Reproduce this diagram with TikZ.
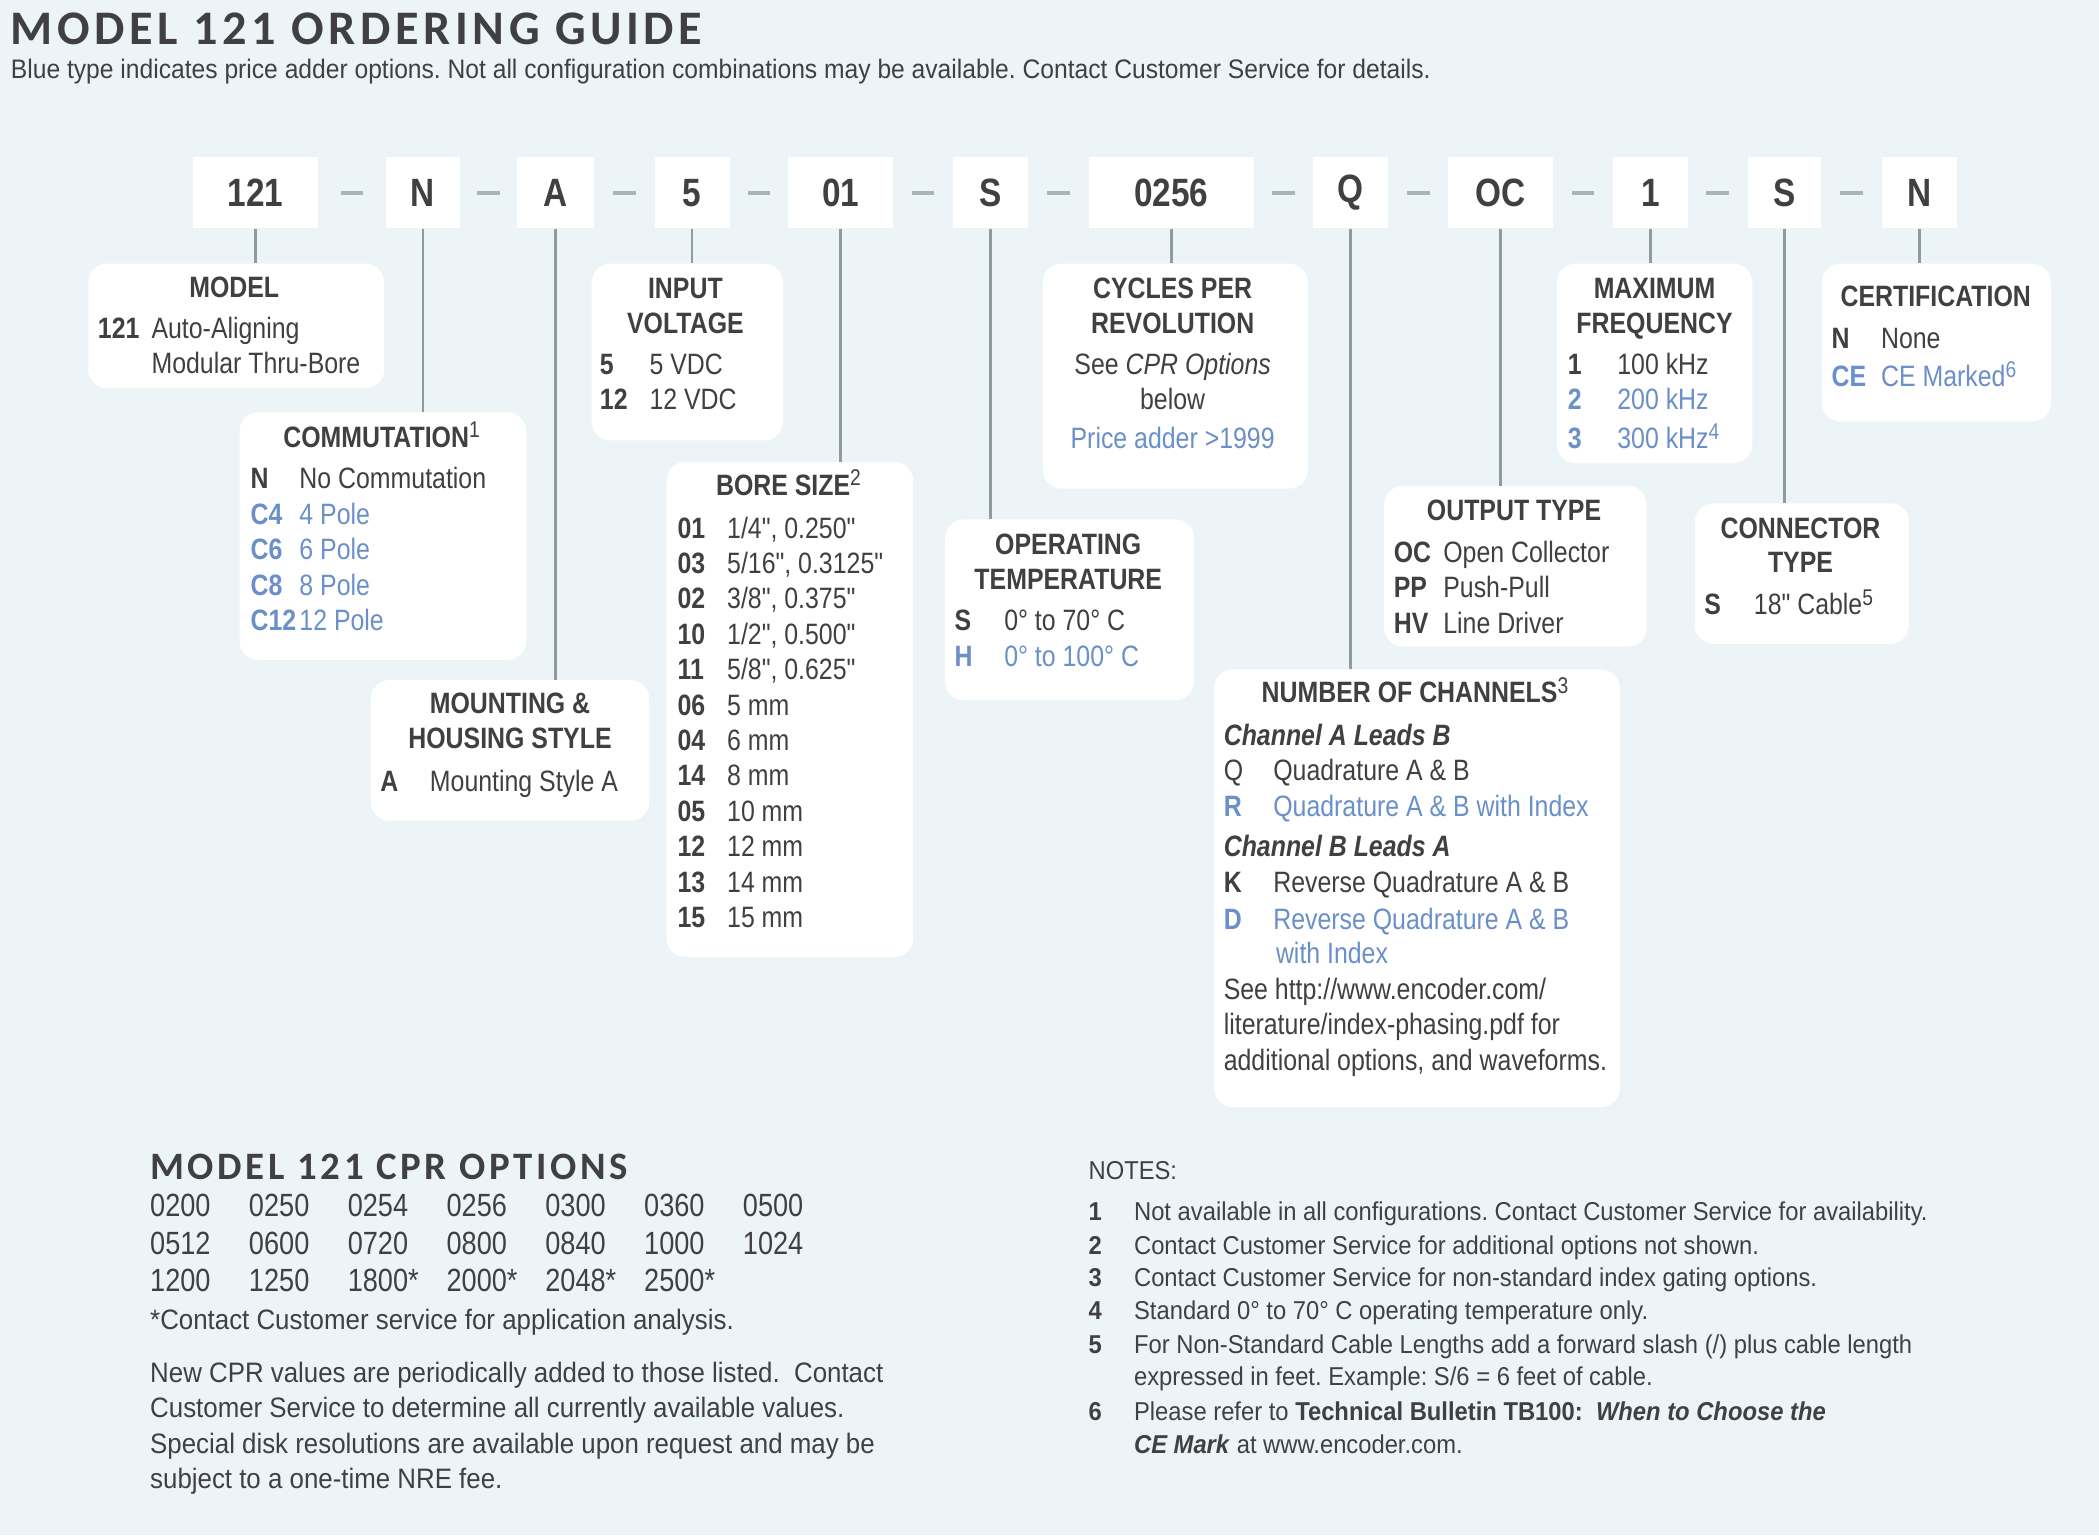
\documentclass[tikz,border=0pt]{standalone}
\usepackage{fontspec}
\setmainfont[FakeStretch=0.845, Ligatures=TeXOff]{Liberation Sans}
\newfontfamily\widefont[FakeStretch=0.92]{Liberation Sans}
\newfontfamily\headfont[LetterSpace=9.5]{Carlito}

\definecolor{paper}{HTML}{EDF4F8}
\definecolor{ink}{HTML}{404043}
\definecolor{adder}{HTML}{6A8FC9}
\definecolor{leadgray}{HTML}{8F9C9E}
\definecolor{sepgray}{HTML}{A9B5B7}

\newcommand\bodyfont{\fontsize{22}{26}\selectfont}
\newcommand\sups[1]{\raisebox{0.6ex}{\fontsize{17}{17}\selectfont\mdseries #1}}

\begin{document}
\frenchspacing
\begin{tikzpicture}[x=1pt, y=-1pt,
    every node/.style={text=ink, inner sep=0pt},
    codebox/.style={fill=white, minimum height=53pt, font=\fontsize{29.5}{29.5}\selectfont\bfseries},
    sepbar/.style={fill=sepgray, minimum width=17pt, minimum height=2.6pt},
    lead/.style={draw=leadgray, line width=2pt},
    infobox/.style={fill=white, rounded corners=14pt},
    head/.style={anchor=base, font=\bodyfont\bfseries},
    key/.style={anchor=base west, font=\bodyfont\bfseries},
    txt/.style={anchor=base west, font=\bodyfont},
    extra/.style={text=adder}
]

\fill[paper] (0,0) rectangle (1568,1147);
\useasboundingbox (0,0) rectangle (1568,1147);

% heading
\node[anchor=base west, font=\headfont\fontsize{36}{36}\selectfont\bfseries] (title) at (8,33) {MODEL 121 ORDERING GUIDE};
\node[anchor=base west, font=\widefont\fontsize{20}{20}\selectfont] (subtitle) at (8,59)
  {Blue type indicates price adder options. Not all configuration combinations may be available. Contact Customer Service for details.};

% part number
\node[codebox, minimum width=93pt] (k121) at (191,144) {121};
\node[codebox, minimum width=55pt] (kN) at (316,144) {N};
\node[codebox, minimum width=57pt] (kA) at (415,144) {A};
\node[codebox, minimum width=56pt] (k5) at (517,144) {5};
\node[codebox, minimum width=78pt] (k01) at (628,144) {01};
\node[codebox, minimum width=56pt] (kS) at (740,144) {S};
\node[codebox, minimum width=123pt] (k0256) at (875,144) {0256};
\node[codebox, minimum width=56pt] (kQ) at (1009,144) {Q};
\node[codebox, minimum width=78pt] (kOC) at (1121,144) {OC};
\node[codebox, minimum width=56pt] (k1) at (1233,144) {1};
\node[codebox, minimum width=55pt] (kSc) at (1333,144) {S};
\node[codebox, minimum width=56pt] (kNc) at (1434,144) {N};

\foreach \a/\b [count=\i] in {k121/kN, kN/kA, kA/k5, k5/k01, k01/kS, kS/k0256,
    k0256/kQ, kQ/kOC, kOC/k1, k1/kSc, kSc/kNc}
  \path (\a.east) -- node[sepbar] (sep\i) {} (\b.west);

% option boxes
\node[infobox, minimum width=221pt, minimum height=93pt] (model) at (176.5,243.5) {};
\node[infobox, minimum width=214pt, minimum height=185pt] (commut) at (286,400.5) {};
\node[infobox, minimum width=208pt, minimum height=105pt] (mount) at (381,560.5) {};
\node[infobox, minimum width=143pt, minimum height=132pt] (volt) at (513.5,263) {};
\node[infobox, minimum width=184pt, minimum height=370pt] (bore) at (590,530) {};
\node[infobox, minimum width=186pt, minimum height=135pt] (temp) at (799,455.5) {};
\node[infobox, minimum width=198pt, minimum height=168pt] (cpr) at (878,281) {};
\node[infobox, minimum width=303pt, minimum height=327pt] (chan) at (1058.5,663.5) {};
\node[infobox, minimum width=196pt, minimum height=120pt] (output) at (1132,423) {};
\node[infobox, minimum width=146pt, minimum height=149pt] (freq) at (1236,271.5) {};
\node[infobox, minimum width=160pt, minimum height=105pt] (connect) at (1346,428.5) {};
\node[infobox, minimum width=171pt, minimum height=118pt] (cert) at (1446.5,256) {};

\foreach \k/\b in {k121/model, kN/commut, kA/mount, k5/volt, k01/bore, kS/temp,
    k0256/cpr, kQ/chan, kOC/output, k1/freq, kSc/connect, kNc/cert}
  \draw[lead] (\k.south) -- (\k.south |- \b.north);

% model
\node[head] (model-t) at (175,222) {MODEL};
\node[key] (model-k) at (73,253) {121};
\node[txt] (model-v1) at (113,253) {Auto-Aligning};
\node[txt] (model-v2) at (113,279) {Modular Thru-Bore};

% commutation
\node[head] (commut-t) at (285,334) {COMMUTATION\sups{1}};
\foreach \k/\v/\c [count=\i] in {N/No Commutation/ink, C4/4 Pole/adder, C6/6 Pole/adder,
    C8/8 Pole/adder, C12/12 Pole/adder} {
  \node[key, text=\c] (commut-k\i) at (187,{365+(\i-1)*26.5}) {\k};
  \node[txt, text=\c] (commut-v\i) at (223.5,{365+(\i-1)*26.5}) {\v};
}

% mounting
\node[head] (mount-t1) at (381,533) {MOUNTING \&};
\node[head] (mount-t2) at (381,559) {HOUSING STYLE};
\node[key] (mount-k) at (284,591) {A};
\node[txt] (mount-v) at (321,591) {Mounting Style A};

% input voltage
\node[head] (volt-t1) at (512,223) {INPUT};
\node[head] (volt-t2) at (512,249) {VOLTAGE};
\node[key] (volt-k1) at (448,280) {5};
\node[txt] (volt-v1) at (485,280) {5 VDC};
\node[key] (volt-k2) at (448,306) {12};
\node[txt] (volt-v2) at (485,306) {12 VDC};

% bore size
\node[head] (bore-t) at (589,370) {BORE SIZE\sups{2}};
\foreach \k/\v [count=\i] in {01/{1/4", 0.250"}, 03/{5/16", 0.3125"}, 02/{3/8", 0.375"},
    10/{1/2", 0.500"}, 11/{5/8", 0.625"}, 06/5 mm, 04/6 mm, 14/8 mm, 05/10 mm,
    12/12 mm, 13/14 mm, 15/15 mm} {
  \node[key] (bore-k\i) at (506,{402+(\i-1)*26.45}) {\k};
  \node[txt] (bore-v\i) at (543,{402+(\i-1)*26.45}) {\v};
}

% operating temperature
\node[head] (temp-t1) at (798,414) {OPERATING};
\node[head] (temp-t2) at (798,440) {TEMPERATURE};
\node[key] (temp-k1) at (713,471) {S};
\node[txt] (temp-v1) at (750,471) {0° to 70° C};
\node[key, extra] (temp-k2) at (713,498) {H};
\node[txt, extra] (temp-v2) at (750,498) {0° to 100° C};

% cycles per revolution
\node[head] (cpr-t1) at (876,223) {CYCLES PER};
\node[head] (cpr-t2) at (876,249) {REVOLUTION};
\node[txt, anchor=base] (cpr-l1) at (876,280) {See \textit{CPR Options}};
\node[txt, anchor=base] (cpr-l2) at (876,306) {below};
\node[txt, anchor=base, extra] (cpr-l3) at (876,335) {Price adder >1999};

% number of channels
\node[head] (chan-t) at (1057,525) {NUMBER OF CHANNELS\sups{3}};
\node[key, font=\bodyfont\bfseries\itshape] (chan-h1) at (914,557) {Channel A Leads B};
\node[txt] (chan-k1) at (914,583) {Q};
\node[txt] (chan-v1) at (951,583) {Quadrature A \& B};
\node[key, extra] (chan-k2) at (914,610) {R};
\node[txt, extra] (chan-v2) at (951,610) {Quadrature A \& B with Index};
\node[key, font=\bodyfont\bfseries\itshape] (chan-h2) at (914,640) {Channel B Leads A};
\node[key] (chan-k3) at (914,667) {K};
\node[txt] (chan-v3) at (951,667) {Reverse Quadrature A \& B};
\node[key, extra] (chan-k4) at (914,694) {D};
\node[txt, extra] (chan-v4) at (951,694) {Reverse Quadrature A \& B};
\node[txt, extra] (chan-v5) at (953,720) {with Index};
\node[txt] (chan-n1) at (914,747) {See http://www.encoder.com/};
\node[txt] (chan-n2) at (914,773) {literature/index-phasing.pdf for};
\node[txt] (chan-n3) at (914,800) {additional options, and waveforms.};

% output type
\node[head] (output-t) at (1131,389) {OUTPUT TYPE};
\foreach \k/\v [count=\i] in {OC/Open Collector, PP/Push-Pull, HV/Line Driver} {
  \node[key] (output-k\i) at (1041,{420+(\i-1)*26.5}) {\k};
  \node[txt] (output-v\i) at (1078,{420+(\i-1)*26.5}) {\v};
}

% maximum frequency
\node[head] (freq-t1) at (1236,223) {MAXIMUM};
\node[head] (freq-t2) at (1236,249) {FREQUENCY};
\node[key] (freq-k1) at (1171,280) {1};
\node[txt] (freq-v1) at (1208,280) {100 kHz};
\node[key, extra] (freq-k2) at (1171,306) {2};
\node[txt, extra] (freq-v2) at (1208,306) {200 kHz};
\node[key, extra] (freq-k3) at (1171,335) {3};
\node[txt, extra] (freq-v3) at (1208,335) {300 kHz\sups{4}};

% certification
\node[head] (cert-t) at (1446,229) {CERTIFICATION};
\node[key] (cert-k1) at (1368,260) {N};
\node[txt] (cert-v1) at (1405,260) {None};
\node[key, extra] (cert-k2) at (1368,289) {CE};
\node[txt, extra] (cert-v2) at (1405,289) {CE Marked\sups{6}};

% connector type
\node[head] (connect-t1) at (1345,402) {CONNECTOR};
\node[head] (connect-t2) at (1345,428) {TYPE};
\node[key] (connect-k) at (1273,459) {S};
\node[txt] (connect-v) at (1310,459) {18" Cable\sups{5}};

% CPR options
\node[anchor=base west, font=\headfont\fontsize{29}{29}\selectfont\bfseries] (cpropt) at (112,881) {MODEL 121 CPR OPTIONS};
\foreach \row [count=\r] in {{0200,0250,0254,0256,0300,0360,0500},
    {0512,0600,0720,0800,0840,1000,1024},{1200,1250,1800*,2000*,2048*,2500*}}
  \foreach \v [count=\c] in \row
    \node[anchor=base west, font=\fontsize{24}{24}\selectfont] (cpr-\r-\c) at ({112+(\c-1)*73.8},{909+(\r-1)*28}) {\v};
\tikzset{cprtxt/.style={txt, font=\widefont\fontsize{21}{21}\selectfont}}
\node[cprtxt] (cprnote) at (112,993) {*Contact Customer service for application analysis.};
\node[cprtxt] (cprpar1) at (112,1033) {New CPR values are periodically added to those listed.\ \ Contact};
\node[cprtxt] (cprpar2) at (112,1059) {Customer Service to determine all currently available values.};
\node[cprtxt] (cprpar3) at (112,1086) {Special disk resolutions are available upon request and may be};
\node[cprtxt] (cprpar4) at (112,1112) {subject to a one-time NRE fee.};

% notes
\tikzset{notenum/.style={key, font=\widefont\fontsize{19.3}{19.3}\selectfont\bfseries},
         notetxt/.style={txt, font=\widefont\fontsize{19.3}{19.3}\selectfont}}
\node[notetxt] (notes) at (813,881) {NOTES:};
\node[notenum] (note1-k) at (813,912) {1};
\node[notetxt] (note1) at (847,912) {Not available in all configurations. Contact Customer Service for availability.};
\node[notenum] (note2-k) at (813,937) {2};
\node[notetxt] (note2) at (847,937) {Contact Customer Service for additional options not shown.};
\node[notenum] (note3-k) at (813,961) {3};
\node[notetxt] (note3) at (847,961) {Contact Customer Service for non-standard index gating options.};
\node[notenum] (note4-k) at (813,986) {4};
\node[notetxt] (note4) at (847,986) {Standard 0° to 70° C operating temperature only.};
\node[notenum] (note5-k) at (813,1011) {5};
\node[notetxt] (note5) at (847,1011) {For Non-Standard Cable Lengths add a forward slash (/) plus cable length};
\node[notetxt] (note5b) at (847,1035) {expressed in feet. Example: S/6 = 6 feet of cable.};
\node[notenum] (note6-k) at (813,1061) {6};
\node[notetxt] (note6) at (847,1061) {Please refer to \textbf{Technical Bulletin TB100:}\ \ \textbf{\textit{When to Choose the}}};
\node[notetxt] (note6b) at (847,1086) {\textbf{\textit{CE Mark}} at www.encoder.com.};

\end{tikzpicture}
\end{document}
